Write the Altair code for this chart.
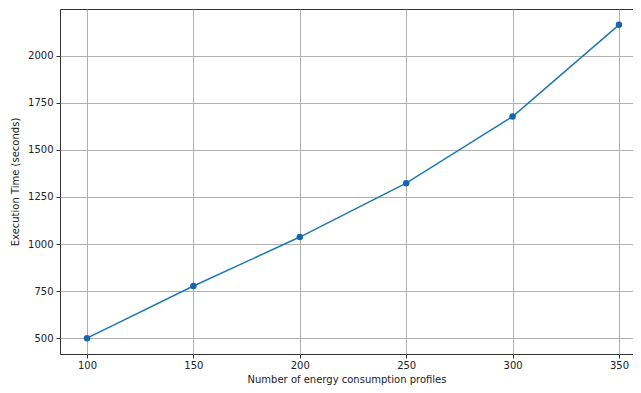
import altair as alt
import pandas as pd

profiles = [100, 150, 200, 250, 300, 350]
exec_time = [500, 777, 1037, 1323, 1677, 2164]
x_ticks = [100, 150, 200, 250, 300, 350]
y_ticks = [500, 750, 1000, 1250, 1500, 1750, 2000]

df = pd.DataFrame({"profiles": profiles, "time": exec_time})

FONT = "DejaVu Sans"
W = 573
H = 345

x = alt.X(
    "profiles:Q",
    scale=alt.Scale(domain=[87.3, 356.6], nice=False, zero=False),
    axis=alt.Axis(
        values=x_ticks,
        format="d",
        title="Number of energy consumption profiles",
        grid=True,
        gridColor="#b0b0b0",
        gridWidth=1,
        domain=False,
        tickColor="#333",
        tickSize=4,
        labelPadding=2,
        titleY=28,
        titleBaseline="alphabetic",
    ),
)
y = alt.Y(
    "time:Q",
    scale=alt.Scale(domain=[416, 2248], nice=False, zero=False),
    axis=alt.Axis(
        values=y_ticks,
        format="d",
        title="Execution Time (seconds)",
        grid=True,
        gridColor="#b0b0b0",
        gridWidth=1,
        domain=False,
        tickColor="#333",
        tickSize=4,
        labelPadding=3,
        titleX=-45,
        titleY=H / 2,
        titleAngle=-90,
        titleAlign="center",
        titleBaseline="middle",
    ),
)

line = alt.Chart(df).mark_line(color="#1f77b4", strokeWidth=1.5).encode(x=x, y=y)
pts = alt.Chart(df).mark_point(
    filled=True, color="#1565b0", size=42, opacity=1
).encode(x="profiles:Q", y="time:Q")

chart = (
    alt.layer(line, pts)
    .properties(
        width=W,
        height=H,
        autosize=alt.AutoSizeParams(type="none"),
        padding={"left": 52, "top": 1, "right": 0, "bottom": 31},
    )
    .configure_view(stroke="#333", strokeWidth=1)
    .configure_axis(
        labelFont=FONT,
        titleFont=FONT,
        labelFontSize=10,
        titleFontSize=10,
        labelColor="#222",
        titleColor="#222",
        titleFontWeight="normal",
    )
)

chart.save("out.html", embed_options={"renderer": "svg", "actions": False})
